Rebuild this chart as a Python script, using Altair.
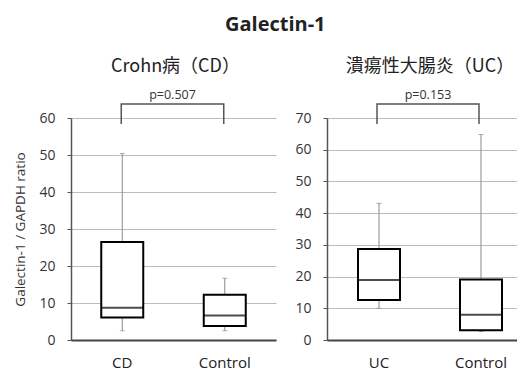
import altair as alt
import pandas as pd

# ---- data ----
cd_groups = ["CD", "Control"]
cd_lower = [2.5, 2.5]
cd_q1 = [6.1, 3.8]
cd_median = [8.7, 6.6]
cd_q3 = [26.5, 12.2]
cd_upper = [50.4, 16.7]

uc_groups = ["UC", "Control"]
uc_lower = [10.0, 2.7]
uc_q1 = [12.6, 3.1]
uc_median = [18.9, 8.0]
uc_q3 = [28.7, 19.1]
uc_upper = [43.1, 64.8]

panel_titles = ["Crohn病（CD）", "潰瘍性大腸炎（UC）"]
p_labels = ["p=0.507", "p=0.153"]
y_maxima = [60, 70]
y_axis_title = "Galectin-1 / GAPDH ratio"
main_title = "Galectin-1"

LATIN = "Open Sans"
CJK = "Noto Sans CJK JP"
H = 222


def panel(groups, lower, q1, median, q3, upper, ymax, title, ptext,
          show_ytitle, width, xscale, step, title_dx, bracket_dx):
    df = pd.DataFrame({"group": groups, "lower": lower, "q1": q1,
                       "median": median, "q3": q3, "upper": upper})
    ppu = H / ymax
    top = ymax + 14 / ppu
    bottom = ymax - 6 / ppu
    bracket = pd.DataFrame({"group": [groups[0], groups[0], groups[1], groups[1]],
                            "y": [bottom, top, top, bottom],
                            "order": [0, 1, 2, 3]})
    label = pd.DataFrame({"group": [groups[0]], "y": [top], "label": [ptext]})

    yscale = alt.Scale(domain=[0, ymax], nice=False)
    xaxis = alt.Axis(title=None, labelAngle=0, ticks=False, domainColor="#444",
                     domainWidth=2, labelFontSize=15, labelFont=LATIN,
                     labelColor="#222", labelPadding=15)
    yaxis = alt.Axis(title=y_axis_title if show_ytitle else None,
                     values=list(range(0, ymax + 1, 10)), grid=True,
                     labelOverlap=False,
                     gridColor="#bcbcbc", gridWidth=1, domainColor="#555",
                     domainWidth=1.5, tickColor="#555", tickSize=4,
                     labelFontSize=14, labelFont=LATIN, labelColor="#333",
                     labelPadding=12, titleFont=LATIN, titleFontSize=13.5,
                     titleFontWeight="normal", titleColor="#333",
                     titlePadding=11.5)

    def X(field="group:N", **kw):
        return alt.X(field, scale=xscale, axis=xaxis, **kw)

    def Y(field):
        return alt.Y(field, scale=yscale, axis=yaxis)

    base = alt.Chart(df)
    whisker = base.mark_rule(color="#8a8a8a", strokeWidth=1).encode(
        x=X(), y=Y("lower:Q"), y2="upper:Q")
    cap_hi = base.mark_tick(color="#8a8a8a", size=5, thickness=1).encode(
        x=X(), y=Y("upper:Q"))
    cap_lo = base.mark_tick(color="#8a8a8a", size=5, thickness=1).encode(
        x=X(), y=Y("lower:Q"))
    box = base.mark_bar(size=42, fill="white", stroke="black",
                        strokeWidth=2).encode(x=X(), y=Y("q1:Q"), y2="q3:Q")
    med = base.mark_tick(color="black", size=42, thickness=2).encode(
        x=X(), y=Y("median:Q"))
    br = alt.Chart(bracket).mark_line(color="#555", strokeWidth=1.5,
                                      xOffset=bracket_dx).encode(
        x=X(), y=Y("y:Q"), order="order:Q")
    txt = alt.Chart(label).mark_text(fontSize=12.5, font=LATIN, color="#333",
                                     dy=-9.5, xOffset=step / 2 + bracket_dx).encode(
        x=X(), y=Y("y:Q"), text="label:N")

    return alt.layer(whisker, cap_hi, cap_lo, box, med, br, txt).properties(
        width=width, height=H,
        title=alt.TitleParams(title, font=CJK, fontSize=18, fontWeight="normal",
                              color="#222", offset=13, dx=title_dx),
    )


left_scale = alt.Scale(domain=cd_groups, paddingInner=0, paddingOuter=0)
right_scale = alt.Scale(domain=uc_groups, paddingInner=0.5, paddingOuter=0.1815,
                        align=0.716)

left = panel(cd_groups, cd_lower, cd_q1, cd_median, cd_q3, cd_upper,
             y_maxima[0], panel_titles[0], p_labels[0], True, 205, left_scale,
             102.5, 2, -1)
right = panel(uc_groups, uc_lower, uc_q1, uc_median, uc_q3, uc_upper,
              y_maxima[1], panel_titles[1], p_labels[1], False, 190, right_scale,
              102, 8, -2)

chart = alt.hconcat(left, right, spacing=18).properties(
    title=alt.TitleParams(main_title, font=LATIN, fontSize=20,
                          fontWeight="bold", color="#222", anchor="middle",
                          offset=23, dx=10),
    padding={"left": 5, "top": 6, "right": 0, "bottom": 0},
).configure_view(stroke=None)

chart.save("out.html", embed_options={"renderer": "svg", "actions": False})
